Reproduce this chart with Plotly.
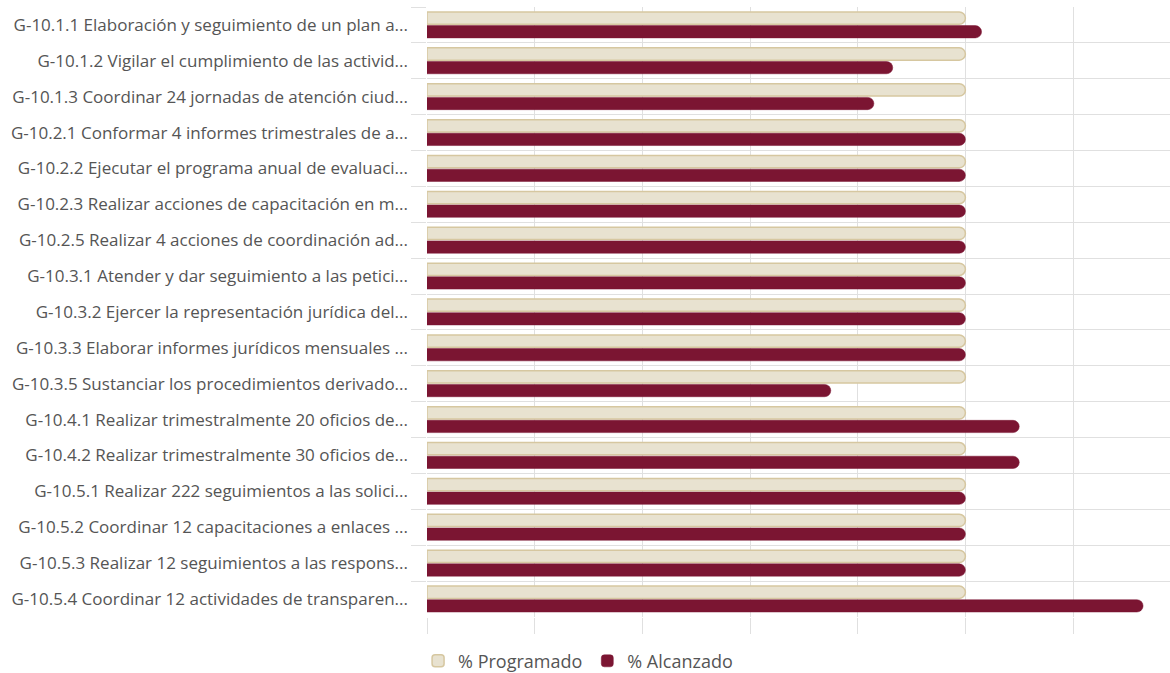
import plotly.graph_objects as go

categories = [
    "G-10.1.1 Elaboración y seguimiento de un plan a...",
    "G-10.1.2 Vigilar el cumplimiento de las activid...",
    "G-10.1.3 Coordinar 24 jornadas de atención ciud...",
    "G-10.2.1 Conformar 4 informes trimestrales de a...",
    "G-10.2.2 Ejecutar el programa anual de evaluaci...",
    "G-10.2.3 Realizar acciones de capacitación en m...",
    "G-10.2.5 Realizar 4 acciones de coordinación ad...",
    "G-10.3.1 Atender y dar seguimiento a las petici...",
    "G-10.3.2 Ejercer la representación jurídica del...",
    "G-10.3.3 Elaborar informes jurídicos mensuales ...",
    "G-10.3.5 Sustanciar los procedimientos derivado...",
    "G-10.4.1 Realizar trimestralmente 20 oficios de...",
    "G-10.4.2 Realizar trimestralmente 30 oficios de...",
    "G-10.5.1 Realizar 222 seguimientos a las solici...",
    "G-10.5.2 Coordinar 12 capacitaciones a enlaces ...",
    "G-10.5.3 Realizar 12 seguimientos a las respons...",
    "G-10.5.4 Coordinar 12 actividades de transparen...",
]
programado = [100] * 17
alcanzado = [103, 86.5, 83, 100, 100, 100, 100, 100, 100, 100, 75, 110, 110, 100, 100, 100, 133]

fig = go.Figure()
fig.add_trace(go.Bar(
    name="% Programado", y=categories, x=programado, orientation="h",
    marker=dict(color="#E8E2D0", line=dict(color="#D6C7A0", width=1.5)),
))
fig.add_trace(go.Bar(
    name="% Alcanzado", y=categories, x=alcanzado, orientation="h",
    marker=dict(color="#7B1532", line=dict(color="#7B1532", width=0.5)),
))

fig.update_layout(
    width=1170, height=673,
    margin=dict(l=427, r=0, t=7, b=56, autoexpand=False),
    paper_bgcolor="white", plot_bgcolor="white",
    barmode="group", bargap=0.24, bargroupgap=0.1,
    barcornerradius=7,
    font=dict(family="Open Sans", size=17, color="#555555"),
    showlegend=True,
    legend=dict(orientation="h", x=-0.012, xanchor="left", y=-0.042, yanchor="top",
                font=dict(size=18, color="#555555"), traceorder="normal"),
    xaxis=dict(range=[0, 138], dtick=20, tick0=0, showticklabels=False,
               showgrid=True, gridcolor="#E0E0E0", gridwidth=1,
               ticks="outside", ticklen=16, tickcolor="#E0E0E0",
               zeroline=False, showline=False, automargin=False),
    yaxis=dict(autorange="reversed", tickson="boundaries", showgrid=True,
               gridcolor="#E0E0E0", ticks="outside", ticklen=15, tickcolor="#E0E0E0",
               tickwidth=1, showline=False, zeroline=False, automargin=False,
               ticklabelstandoff=18, tickfont=dict(size=17)),
)

fig.write_html("out.html", config={"displayModeBar": False},
               post_script="document.body.style.margin='0';document.body.style.overflow='hidden';")
